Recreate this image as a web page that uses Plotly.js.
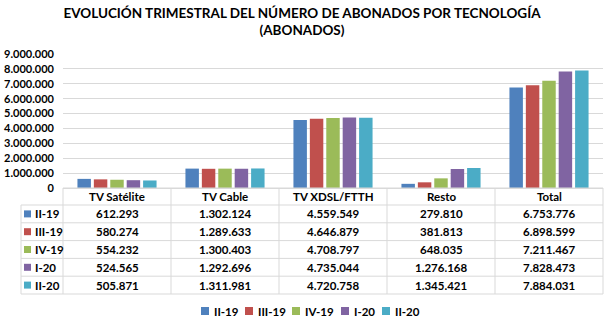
<!DOCTYPE html>
<html>
<head>
<meta charset="utf-8">
<script src="https://cdn.plot.ly/plotly-3.0.1.min.js"></script>
<style>html,body{margin:0;padding:0;background:#fff;}#chart{width:604px;height:325px;}</style>
</head>
<body>
<div id="chart"></div>
<script>
const categories = ["TV Satélite", "TV Cable", "TV XDSL/FTTH", "Resto", "Total"];
const seriesNames = ["II-19", "III-19", "IV-19", "I-20", "II-20"];
const s_II19  = [612293, 1302124, 4559549, 279810, 6753776];
const s_III19 = [580274, 1289633, 4646879, 381813, 6898599];
const s_IV19  = [554232, 1300403, 4708797, 648035, 7211467];
const s_I20   = [524565, 1292696, 4735044, 1276168, 7828473];
const s_II20  = [505871, 1311981, 4720758, 1345421, 7884031];
const seriesValues = [s_II19, s_III19, s_IV19, s_I20, s_II20];
const yTickVals = [0,1000000,2000000,3000000,4000000,5000000,6000000,7000000,8000000,9000000];
const yTickText = ["0","1.000.000","2.000.000","3.000.000","4.000.000","5.000.000","6.000.000","7.000.000","8.000.000","9.000.000"];
const colors = ["#4F81BD", "#C0504D", "#9BBB59", "#8064A2", "#4BACC6"];

const W = 604, H = 325, L = 63, R = 603, T = 54, B = 188;
const FONT = "Lato, 'Open Sans', sans-serif";
function py(p){ return (B - p) / (B - T); }
function px(p){ return (p - L) / (R - L); }
function fmt(v){ return String(v).replace(/\B(?=(\d{3})+(?!\d))/g, "."); }

const traces = seriesNames.map((n, i) => ({
  type: "bar", name: n, x: categories, y: seriesValues[i],
  marker: {color: colors[i]}, showlegend: false, hoverinfo: "none"
}));

const gridCol = "#D9D9D9";
const shapes = [];
const annotations = [];
const headerTop = B, headerBot = 205, rowH = 17.8;
const tableBot = headerBot + rowH * seriesNames.length;
const colEdges = [L];
for (let i = 1; i <= categories.length; i++) colEdges.push(L + (R - L) * i / categories.length);
function line(x0,y0,x1,y1){ shapes.push({type:"line", xref:"paper", yref:"paper", x0:px(x0), y0:py(y0), x1:px(x1), y1:py(y1), line:{color:gridCol, width:1}}); }
line(L, headerTop, R, headerTop);
for (let r = 0; r <= seriesNames.length; r++) line(21, headerBot + rowH*r, R, headerBot + rowH*r);
colEdges.forEach(x => line(x, headerTop, x, tableBot));
line(21, headerBot, 21, tableBot);
const TF = {family:FONT, size:11.5, color:"#000"};
categories.forEach((c) => {
  annotations.push({xref:"x", yref:"paper", x:c, y:py((headerTop+headerBot)/2), text:"<b>"+c+"</b>", showarrow:false, font:TF, xanchor:"center", yanchor:"middle"});
});
seriesNames.forEach((n, r) => {
  const cy = headerBot + rowH*r + rowH/2;
  shapes.push({type:"rect", xref:"paper", yref:"paper", x0:px(24), x1:px(31), y0:py(cy-3.5), y1:py(cy+3.5), fillcolor:colors[r], line:{width:0}});
  annotations.push({xref:"paper", yref:"paper", x:px(33), y:py(cy), text:"<b>"+n+"</b>", showarrow:false, xanchor:"left", yanchor:"middle", font:TF});
  categories.forEach((c, k) => {
    annotations.push({xref:"x", yref:"paper", x:c, y:py(cy), text:"<b>"+fmt(seriesValues[r][k])+"</b>", showarrow:false, xanchor:"center", yanchor:"middle", font:TF});
  });
});
const legendX = [201, 245, 292, 341, 382];
const legY = 311;
seriesNames.forEach((n, i) => {
  shapes.push({type:"rect", xref:"paper", yref:"paper", x0:px(legendX[i]), x1:px(legendX[i]+8), y0:py(legY-4), y1:py(legY+4), fillcolor:colors[i], line:{width:0}});
  annotations.push({xref:"paper", yref:"paper", x:px(legendX[i]+11), y:py(legY), text:"<b>"+n+"</b>", showarrow:false, xanchor:"left", yanchor:"middle", font:TF});
});

const layout = {
  width: W, height: H,
  margin: {l: L, r: W - R, t: T, b: H - B, pad: 0},
  paper_bgcolor: "#fff", plot_bgcolor: "#fff",
  title: {text: "<b>EVOLUCIÓN TRIMESTRAL DEL NÚMERO DE ABONADOS POR TECNOLOGÍA<br>(ABONADOS)</b>", x: 0.5, xanchor: "center", y: 0.945, yanchor: "top", font: {family: FONT, size: 13.5, color: "#000"}},
  barmode: "group", bargap: 0.24, bargroupgap: 0.18,
  xaxis: {type: "category", showticklabels: false, showgrid: false, zeroline: false, showline: true, linecolor: gridCol, linewidth: 1, ticks: ""},
  yaxis: {range: [0, 9000000], tickvals: yTickVals, ticktext: yTickText, showgrid: true, gridcolor: gridCol, gridwidth: 1, zeroline: false, showline: false, ticks: "", ticklabelstandoff: 8, tickfont: {family: FONT, size: 11, color: "#000", weight: "bold"}},
  showlegend: false,
  shapes: shapes, annotations: annotations
};
Plotly.newPlot("chart", traces, layout, {staticPlot: true, displayModeBar: false});
</script>
</body>
</html>
